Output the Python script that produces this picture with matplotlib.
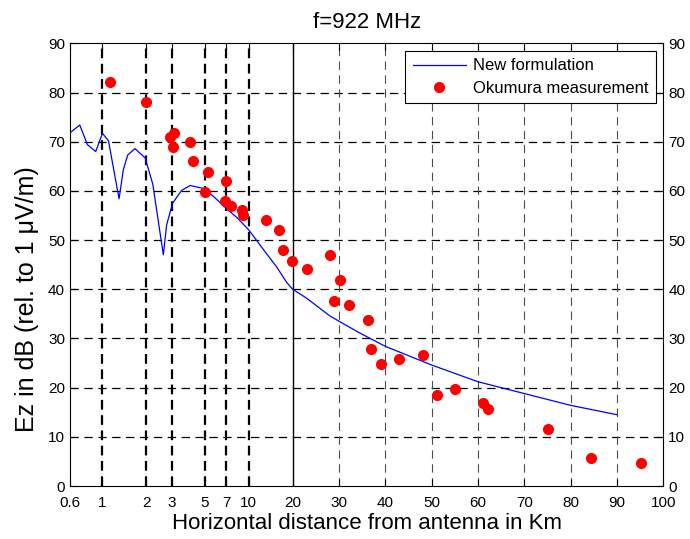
import numpy as np
import matplotlib
matplotlib.use('Agg')
import matplotlib.pyplot as plt

plt.rcParams['font.family'] = ['Liberation Sans', 'DejaVu Sans']
plt.rcParams['lines.scale_dashes'] = False

# New formulation (blue line)
line_x = [0.6, 0.70, 0.79, 0.90, 1.0, 1.10, 1.30, 1.39, 1.49, 1.67, 1.96, 2.21, 2.61, 2.75,
          3.02, 3.48, 3.98, 4.90, 5.74, 7.0, 8.3, 10.0, 12.9, 14.0, 15.5, 18.2, 20.0, 23.0,
          28.0, 30.2, 34.5, 40, 50, 60, 70, 80, 90]
line_y = [71.8, 73.4, 69.4, 68.0, 71.7, 70.2, 58.4, 64.3, 67.3, 68.6, 66.7, 61.4, 47.0, 53.1,
          57.5, 60.1, 61.1, 60.5, 58.9, 56.5, 54.6, 52.1, 47.7, 46.3, 44.6, 41.4, 40.0, 38.2,
          34.6, 33.4, 31.1, 28.4, 24.6, 21.2, 18.8, 16.4, 14.5]

# Okumura measurement (red dots)
meas_x = [1.13, 2.0, 2.90, 3.11, 3.05, 4.0, 4.16, 5.25, 5.0, 7.03, 6.9, 7.6, 8.98, 9.2,
          13.1, 16.1, 17.2, 19.9, 23.0, 28.1, 29.0, 30.3, 32.2, 36.2, 37.0, 39.0, 43.0,
          48.2, 51.1, 55.0, 61.0, 62.2, 75.1, 84.3, 95.2]
meas_y = [82.1, 78.1, 71.0, 71.8, 69.0, 70.0, 66.0, 63.8, 59.7, 62.0, 57.9, 56.9, 56.1, 55.0,
          54.0, 52.0, 47.9, 45.8, 44.1, 46.9, 37.7, 41.8, 36.9, 33.7, 27.8, 24.8, 25.8,
          26.7, 18.6, 19.7, 16.8, 15.6, 11.6, 5.6, 4.6]

xticks = [0.6, 1, 2, 3, 5, 7, 10, 20, 30, 40, 50, 60, 70, 80, 90, 100]
xticklabels = ['0.6', '1', '2', '3', '5', '7', '10', '20', '30', '40', '50', '60', '70', '80', '90', '100']

# log axis from 0.6 to 20, linear from 20 to 100
K = 31.56
Y20 = K * np.log10(20 / 0.6)


def fwd(x):
    x = np.asarray(x, dtype=float)
    xl = np.clip(x, 1e-3, None)
    return np.where(x <= 20, K * np.log10(xl / 0.6), Y20 + (x - 20))


def inv(y):
    y = np.asarray(y, dtype=float)
    return np.where(y <= Y20, 0.6 * 10 ** (np.minimum(y, Y20) / K), y - Y20 + 20)


fig = plt.figure(figsize=(6.9, 5.39), dpi=100)
ax = fig.add_axes([0.1014, 0.0983, 0.8599, 0.8213])
ax.set_xscale('function', functions=(fwd, inv))
ax.set_xlim(0.6, 100)
ax.set_ylim(0, 90)

# grid lines
for yv in range(10, 90, 10):
    ax.axhline(yv, color='black', lw=0.9, ls=(0, (6, 4)), zorder=1)
for xv in [1, 2, 3, 5, 7, 10]:
    ax.axvline(xv, color='black', lw=1.6, ls=(0, (7, 4)), zorder=1)
ax.axvline(20, color='black', lw=1.0, zorder=1)
for xv in range(30, 100, 10):
    ax.axvline(xv, color='0.3', lw=0.8, ls=(0, (6, 4)), zorder=1)

ax.plot(line_x, line_y, color='blue', lw=0.9, label='New formulation', zorder=3)
ax.plot(meas_x, meas_y, 'o', color='red', markersize=7, label='Okumura measurement', zorder=4)

ax.set_xticks(xticks)
ax.set_xticklabels(xticklabels)
ax.xaxis.set_minor_locator(matplotlib.ticker.NullLocator())
ax.set_yticks(range(0, 100, 10))
ax.tick_params(direction='in', top=True, right=True, labelright=True, labelsize=11, length=5)
ax.tick_params(axis='x', pad=7)

ax.set_title('f=922 MHz', fontsize=16, pad=11)
ax.set_xlabel('Horizontal distance from antenna in Km', fontsize=16, labelpad=2)
ax.set_ylabel('Ez in dB (rel. to 1 \u03bcV/m)', fontsize=18)
ax.yaxis.set_label_coords(-0.053, 0.423)

leg = ax.legend(loc='upper right', fontsize=12, fancybox=False, edgecolor='black',
                framealpha=1, borderaxespad=0.45, handlelength=3.2, handletextpad=0.4,
                borderpad=0.45, labelspacing=0.45)
leg.get_frame().set_linewidth(0.8)

fig.savefig('out.png', dpi=100)
